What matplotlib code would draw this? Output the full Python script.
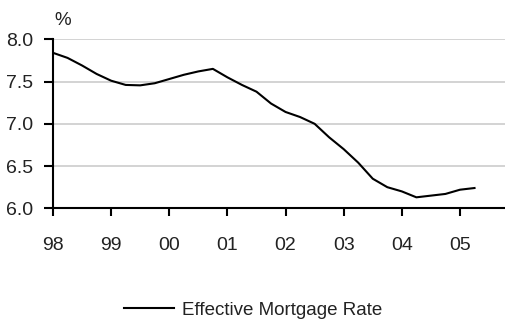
import matplotlib
matplotlib.use("Agg")
import matplotlib.pyplot as plt
import numpy as np

plt.rcParams['font.family'] = ['Liberation Sans', 'DejaVu Sans']

# Quarterly effective mortgage rate, 1998 Q1 - 2005 Q2 (%)
quarters = np.arange(1998, 2005.26, 0.25)
rate = [7.84, 7.78, 7.69, 7.59, 7.51, 7.46, 7.455, 7.48,
        7.53, 7.58, 7.62, 7.65, 7.55, 7.46, 7.38, 7.24,
        7.14, 7.08, 7.00, 6.84, 6.70, 6.54, 6.35, 6.25,
        6.20, 6.13, 6.15, 6.17, 6.22, 6.24]
year_ticks = list(range(1998, 2006))
year_labels = ["98", "99", "00", "01", "02", "03", "04", "05"]
y_ticks = [6.0, 6.5, 7.0, 7.5, 8.0]

fig = plt.figure(figsize=(5.06, 3.2), dpi=100)
ax = fig.add_axes([53 / 506, 1 - 208.3 / 320, 452 / 506, (208.3 - 39.3) / 320])

ax.plot(quarters, rate, color="black", lw=1.5, label="Effective Mortgage Rate")

ax.set_xlim(1998, 1998 + (505 - 53.3) / 58.1)
ax.set_ylim(6.0, 8.0)
ax.set_xticks(year_ticks)
ax.set_xticklabels(year_labels)
ax.set_yticks(y_ticks)
ax.set_yticklabels([f"{v:.1f}" for v in y_ticks])

ax.yaxis.grid(True, color="#cccccc", lw=1.2)
ax.set_axisbelow(True)
for s in ["top", "right"]:
    ax.spines[s].set_visible(False)
for s in ["left", "bottom"]:
    ax.spines[s].set_linewidth(1.5)
ax.tick_params(axis="y", length=6.5, width=1.5, pad=8, labelsize=14, labelcolor="#222222")
ax.tick_params(axis="x", length=6, width=1.5, pad=15, labelsize=14, labelcolor="#222222")

fig.text(54 / 506, 1 - 29 / 320, "%", fontsize=13.5, ha="left", va="bottom", color="#222222")

fig.legend(loc="center", bbox_to_anchor=(0.5, 10 / 320), frameon=False,
           fontsize=13.5, handlelength=2.7, handletextpad=0.4,
           labelcolor="#222222")

fig.savefig("out.png", dpi=100)
